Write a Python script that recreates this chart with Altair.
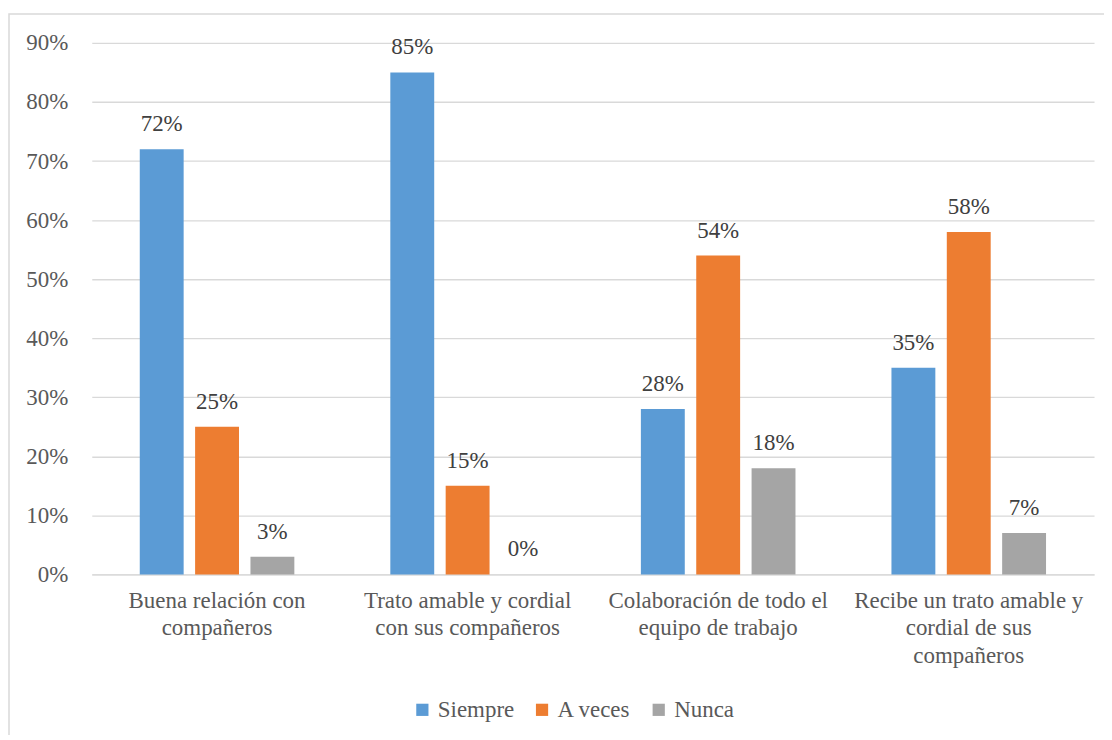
import altair as alt
import pandas as pd

categories = [
    "Buena relación con\ncompañeros",
    "Trato amable y cordial\ncon sus compañeros",
    "Colaboración de todo el\nequipo de trabajo",
    "Recibe un trato amable y\ncordial de sus\ncompañeros",
]
series = ["Siempre", "A veces", "Nunca"]
siempre = [72, 85, 28, 35]
a_veces = [25, 15, 54, 58]
nunca = [3, 0, 18, 7]
colors = ["#5B9BD5", "#ED7D31", "#A5A5A5"]
y_ticks = [0, 10, 20, 30, 40, 50, 60, 70, 80, 90]

rows = []
for s, vals in zip(series, [siempre, a_veces, nunca]):
    for c, v in zip(categories, vals):
        rows.append({"cat": c, "serie": s, "value": v})
df = pd.DataFrame(rows)

FONT = "Liberation Serif"
FS = 23
W, H = 1005, 533

x_enc = alt.X("cat:N", sort=categories, title=None,
              scale=alt.Scale(paddingInner=0, paddingOuter=0),
              axis=alt.Axis(labelExpr="split(datum.label, '\\n')", labelAngle=0,
                            labelLineHeight=27.5, labelPadding=15, labelBaseline="top",
                            ticks=False, domainColor="#d9d9d9", domainWidth=1.3,
                            grid=False, labelLimit=400))
xoff = alt.XOffset("serie:N", sort=series,
                   scale=alt.Scale(paddingInner=0.207, paddingOuter=0.867))
y_enc = alt.Y("value:Q", title=None,
              scale=alt.Scale(domain=[0, 90], nice=False),
              axis=alt.Axis(values=y_ticks, labelExpr="datum.value + '%'",
                            labelPadding=24, ticks=False, domain=False,
                            gridColor="#d9d9d9", gridWidth=1.3))

base = alt.Chart(df)

bars = base.mark_bar().encode(
    x=x_enc, xOffset=xoff, y=y_enc,
    color=alt.Color("serie:N", sort=series, title=None,
                    scale=alt.Scale(domain=series, range=colors),
                    legend=alt.Legend(orient="none", legendX=320, legendY=657,
                                      direction="horizontal", symbolType="square",
                                      symbolSize=150, symbolStrokeWidth=0,
                                      labelOffset=4, columnPadding=16)),
)

labels = base.transform_calculate(lbl="datum.value + '%'").mark_text(
    baseline="bottom", dy=-13
).encode(
    x=alt.X("cat:N", sort=categories), xOffset=xoff,
    y=alt.Y("value:Q"), text="lbl:N",
)

frame = alt.Chart(pd.DataFrame({"a": [0]})).mark_rect(
    fill=None, stroke="#d9d9d9", strokeWidth=1.5
).encode(x=alt.value(-83), x2=alt.value(1030), y=alt.value(-29), y2=alt.value(720))

chart = alt.layer(frame, bars, labels).properties(
    width=W, height=H,
    autosize=alt.AutoSizeParams(type="none"),
    padding={"left": 84, "top": 34, "right": 10, "bottom": 160},
).configure(font=FONT).configure_view(stroke=None).configure_axis(
    labelFont=FONT, labelFontSize=FS, labelColor="#595959"
).configure_legend(
    labelFont=FONT, labelFontSize=FS, labelColor="#595959"
).configure_text(
    font=FONT, fontSize=FS, color="#404040"
)

chart.save("out.html", embed_options={"renderer": "svg", "actions": False})
